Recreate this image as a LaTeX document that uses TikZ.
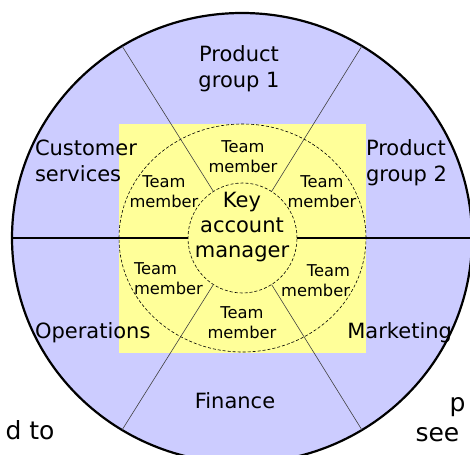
\documentclass[tikz,border=0pt]{standalone}
\usepackage{fontspec}
\setmainfont{DejaVu Sans}
\usetikzlibrary{shapes.geometric}
\definecolor{lav}{HTML}{CCCCFF}
\definecolor{pale}{HTML}{FFFF99}
\begin{document}
\begin{tikzpicture}[x=1pt,y=-1pt,
  outerlbl/.style={font=\fontsize{21}{26}\selectfont, inner sep=0pt, outer sep=0pt},
  teamlbl/.style={font=\fontsize{16.3}{20}\selectfont, inner sep=0pt, outer sep=0pt, align=center},
  bglbl/.style={font=\fontsize{25}{30}\selectfont, inner sep=0pt, outer sep=0pt},
  ring/.style={ellipse, draw=black, line width=0.6pt, dash pattern=on 3pt off 2pt, inner sep=0pt, outer sep=0pt},
  spoke/.style={draw=black!75, line width=0.6pt},
  axis/.style={draw=black, line width=1.6pt}]
\useasboundingbox (0,0) rectangle (470,454);
\clip (0,0) rectangle (470,454);
% outer circle
\node[ellipse, draw=black, line width=2.2pt, fill=lav, minimum width=460pt, minimum height=450pt, inner sep=0pt, outer sep=0pt] (outer) at (242,238) {};
% yellow panel
\node[fill=pale, minimum width=247pt, minimum height=229pt, inner sep=0pt, outer sep=0pt] (panel) at (242.5,238.5) {};
% rings
\node[ring, minimum width=247pt, minimum height=228pt] (team) at (242.5,238) {};
\node[ring, minimum width=109pt, minimum height=110pt] (kam) at (242.5,238) {};
% spokes
\draw[spoke] (kam.122) -- (outer.122);
\draw[spoke] (kam.58) -- (outer.58);
\draw[spoke] (kam.238) -- (outer.238);
\draw[spoke] (kam.302) -- (outer.302);
\draw[axis] (outer.west) -- (kam.west);
\draw[axis] (kam.east) -- (outer.east);
% centre label (base = last line's baseline)
\node[outerlbl, align=center, font=\fontsize{21}{25}\selectfont, anchor=base] (kamtxt) at (242,257) {Key\\account\\manager};
% team members
\node[teamlbl, anchor=base] (t1) at (243,172) {Team\\member};
\node[teamlbl, anchor=base] (t2) at (164,207) {Team\\member};
\node[teamlbl, anchor=base] (t3) at (322,207) {Team\\member};
\node[teamlbl, align=left, anchor=base west] (t4) at (134,294) {Team\\member};
\node[teamlbl, align=right, anchor=base east] (t5) at (350,296) {Team\\member};
\node[teamlbl, anchor=base] (t6) at (242,338) {Team\\member};
% outer labels
\node[outerlbl, align=center, anchor=base] (pg1) at (239,88) {Product\\group 1};
\node[outerlbl, align=left, anchor=base west] (cs) at (35,182) {Customer\\services};
\node[outerlbl, align=left, anchor=base west] (pg2) at (366,182) {Product\\group 2};
\node[outerlbl, anchor=base west] (ops) at (35,338) {Operations};
\node[outerlbl, anchor=base east] (mkt) at (452,338) {Marketing};
\node[outerlbl, anchor=base] (fin) at (235,408) {Finance};
% background text fragments
\node[bglbl, anchor=base east] (frag1) at (54.5,439.5) {d to};
\node[bglbl, anchor=base west] (frag2) at (449.5,411.7) {p};
\node[bglbl, anchor=base west] (frag3) at (415.5,441.7) {see};
\end{tikzpicture}
\end{document}
